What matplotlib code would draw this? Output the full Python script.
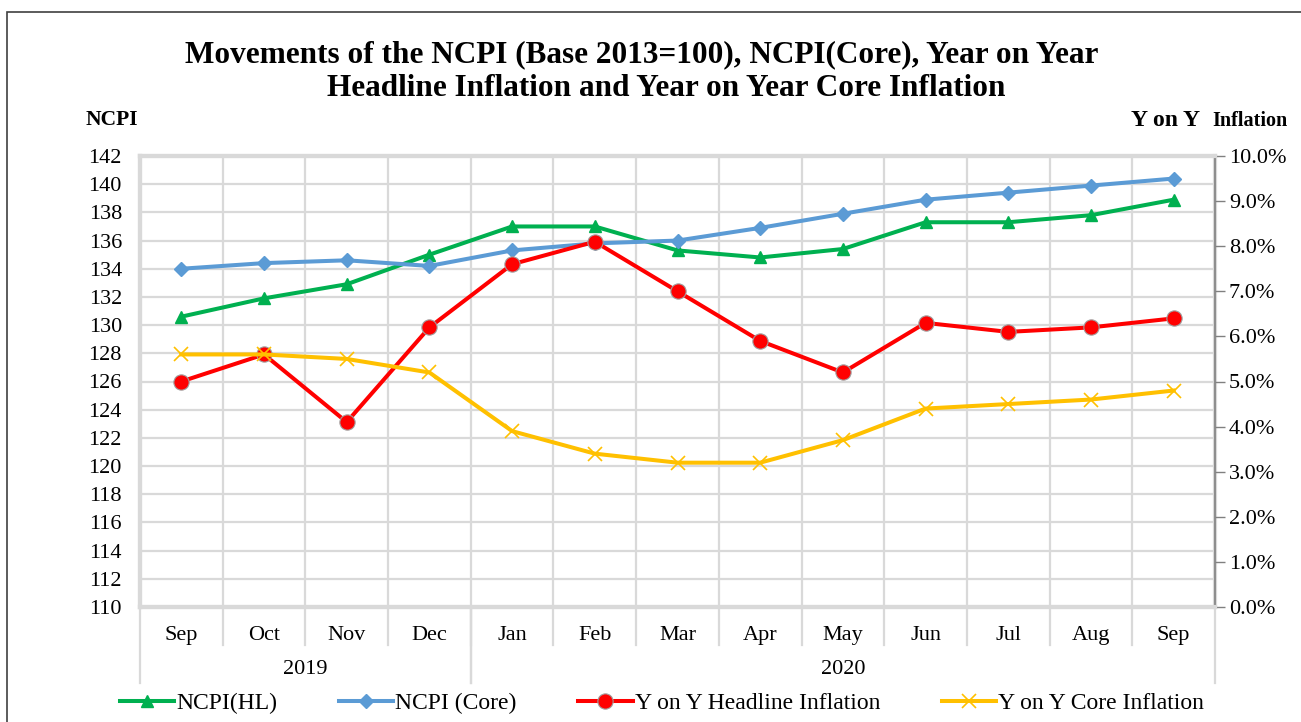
import matplotlib.pyplot as plt
from matplotlib.patches import Rectangle
from matplotlib.ticker import FuncFormatter

plt.rcParams["font.family"] = ["Liberation Serif", "DejaVu Serif"]

months = ["Sep", "Oct", "Nov", "Dec", "Jan", "Feb", "Mar", "Apr", "May",
          "Jun", "Jul", "Aug", "Sep"]
years = ["2019", "2020"]
year_spans = [(0, 4), (4, 13)]  # month index ranges per year

ncpi_hl = [130.6, 131.9, 132.9, 135.0, 137.0, 137.0, 135.3, 134.8, 135.4,
           137.3, 137.3, 137.8, 138.9]
ncpi_core = [134.0, 134.4, 134.6, 134.2, 135.3, 135.8, 136.0, 136.9, 137.9,
             138.9, 139.4, 139.9, 140.4]
yoy_headline = [5.0, 5.6, 4.1, 6.2, 7.6, 8.1, 7.0, 5.9, 5.2, 6.3, 6.1, 6.2, 6.4]
yoy_core = [5.6, 5.6, 5.5, 5.2, 3.9, 3.4, 3.2, 3.2, 3.7, 4.4, 4.5, 4.6, 4.8]

GREEN, BLUE, RED, GOLD = "#00b050", "#5b9bd5", "#ff0000", "#ffc000"
GRID = "#d9d9d9"
FS = 16

fig = plt.figure(figsize=(13.01, 7.22), dpi=100)
fig.patches.append(Rectangle((7 / 1301, -0.1), 1.2, 1 - 12 / 722 + 0.1,
                             transform=fig.transFigure, fill=False,
                             edgecolor="#404040", linewidth=1.2))

ax = fig.add_axes([140 / 1301, 1 - 607 / 722, 1075 / 1301, 451 / 722])
ax2 = ax.twinx()

x = range(len(months))
l1, = ax.plot(x, ncpi_hl, color=GREEN, lw=2.9, marker="^", ms=9, zorder=3)
l2, = ax.plot(x, ncpi_core, color=BLUE, lw=2.9, marker="D", ms=7, zorder=3)
l3, = ax2.plot(x, yoy_headline, color=RED, lw=2.9, marker="o", ms=11,
               markeredgecolor="#a0a0a0", markeredgewidth=0.8)
l4, = ax2.plot(x, yoy_core, color=GOLD, lw=2.9, marker="x", ms=10, mew=1.2)

ax.set_xlim(-0.5, len(months) - 0.5)
ax.set_ylim(110, 142)
ax.set_yticks(range(110, 143, 2))
ax2.set_ylim(0, 10)
ax2.set_yticks(range(0, 11))
ax2.yaxis.set_major_formatter(FuncFormatter(lambda v, _: f"{v:.1f}%"))

ax.set_xticks(list(x))
ax.set_xticklabels(months, fontsize=FS)
ax.tick_params(axis="x", length=0, pad=14)
ax.tick_params(axis="y", length=0, pad=13, labelsize=FS)
ax2.tick_params(axis="y", length=7, width=1, color="#808080", direction="out",
                pad=3, labelsize=FS)

ax.set_xticks([i - 0.5 for i in range(1, len(months))], minor=True)
ax.tick_params(axis="x", which="minor", length=0)
ax.grid(True, which="minor", axis="x", color=GRID, lw=1.6)
ax.grid(True, which="major", axis="y", color=GRID, lw=1.6)
ax.set_axisbelow(True)

for a in (ax, ax2):
    for s in a.spines.values():
        s.set_color(GRID)
        s.set_linewidth(3)
ax2.spines["right"].set_color("#808080")
ax2.spines["right"].set_linewidth(1.2)

# category separators below the axis
tr = ax.get_xaxis_transform()
for i in range(1, len(months)):
    ax.plot([i - 0.5, i - 0.5], [0, -38 / 451], transform=tr, color=GRID,
            lw=1.6, clip_on=False)
for a, b in year_spans:
    for edge in (a - 0.5, b - 0.5):
        ax.plot([edge, edge], [0, -76 / 451], transform=tr, color=GRID,
                lw=1.6, clip_on=False)
for yr, (a, b) in zip(years, year_spans):
    ax.text((a + b - 1) / 2, -63 / 451, yr, transform=tr, ha="center",
            va="center", fontsize=FS)

fig.text(642 / 1301, 1 - 55 / 722,
         "Movements of the NCPI (Base 2013=100), NCPI(Core), Year on Year",
         ha="center", va="center", fontsize=22.5, fontweight="bold")
fig.text(666 / 1301, 1 - 88 / 722,
         "Headline Inflation and Year on Year Core Inflation",
         ha="center", va="center", fontsize=22.5, fontweight="bold")
fig.text(86 / 1301, 1 - 120 / 722, "NCPI", ha="left", va="center",
         fontsize=15.5, fontweight="bold")
fig.text(1131 / 1301, 1 - 120 / 722, "Y on Y", ha="left", va="center",
         fontsize=17, fontweight="bold")
fig.text(1288 / 1301, 1 - 121 / 722, "Inflation", ha="right", va="center",
         fontsize=14.5, fontweight="bold")

fig.legend([l1, l2, l3, l4],
           ["NCPI(HL)", "NCPI (Core)", "Y on Y Headline Inflation",
            "Y on Y Core Inflation"],
           loc="center", bbox_to_anchor=(662 / 1301, 1 - 703 / 722), ncol=4,
           frameon=False, fontsize=17, handlelength=2.3, handletextpad=0.1,
           columnspacing=2.6)

fig.savefig("out.png", dpi=100)
